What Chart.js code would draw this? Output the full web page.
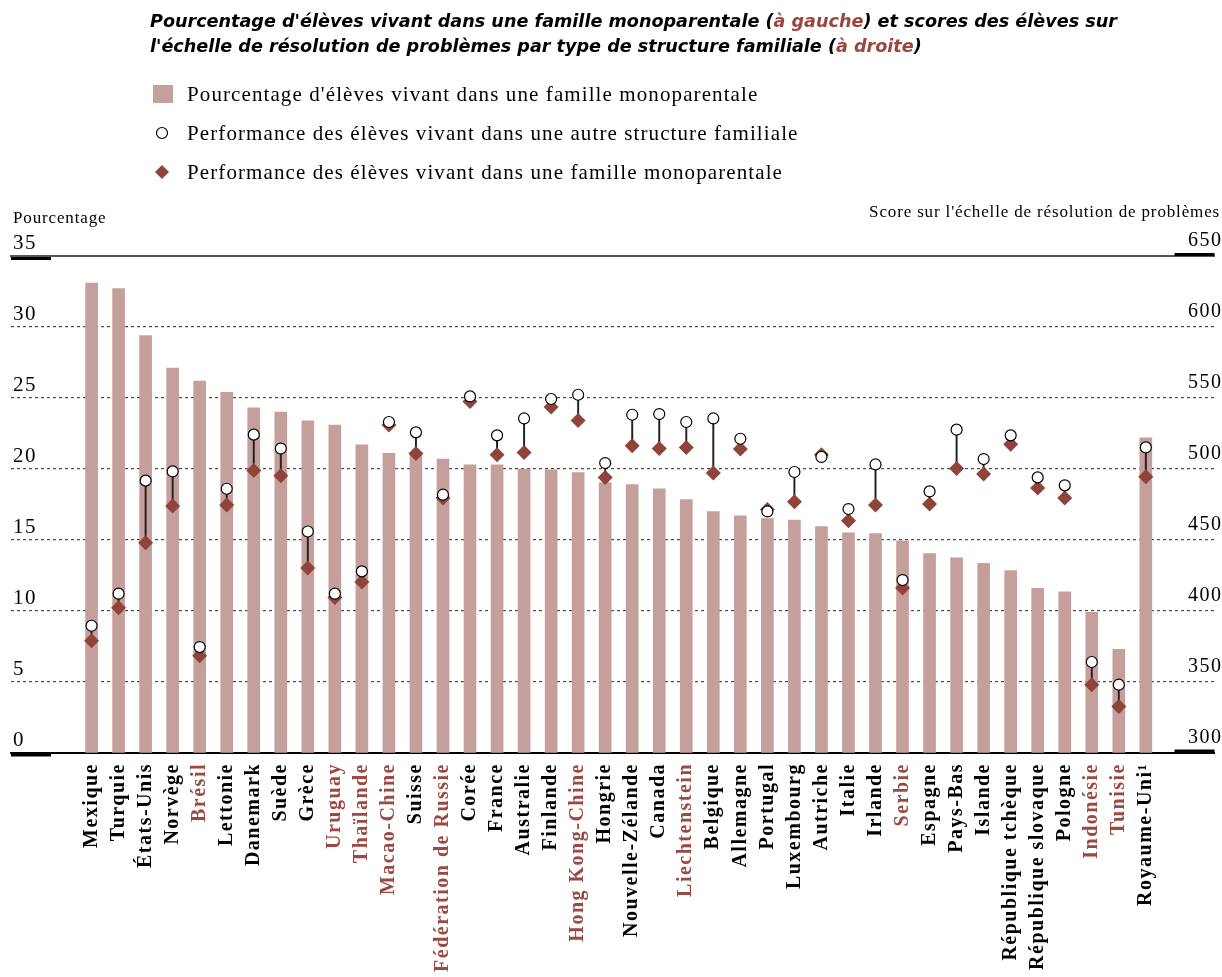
<!DOCTYPE html>
<html>
<head>
<meta charset="utf-8">
<script src="https://cdn.jsdelivr.net/npm/chart.js@4/dist/chart.umd.min.js"></script>
<style>
  body { margin: 0; background: #fff; }
  #page { position: relative; width: 1222px; height: 977px; overflow: hidden; font-family: "Liberation Serif", serif; }
  #chart-box { position: absolute; left: 0; top: 0; width: 1222px; height: 977px; }
  #title { position: absolute; left: 150px; top: 9px; font: italic bold 17.6px "DejaVu Sans", sans-serif; line-height: 25px; color: #000; white-space: nowrap; }
  #title .hl { color: #9b463d; }
  .leg { position: absolute; left: 150px; height: 24px; font-size: 21px; line-height: 24px; letter-spacing: 1.1px; white-space: nowrap; }
  .leg .mk { position: absolute; left: 0; top: 0; width: 26px; height: 24px; }
  .leg span { position: absolute; left: 37px; top: 0; }
  .axis-title { position: absolute; font-size: 17px; letter-spacing: 0.85px; white-space: nowrap; }
</style>
</head>
<body>
<div id="page">
  <div id="chart-box"><canvas id="chart"></canvas></div>
  <div id="title">Pourcentage d'élèves vivant dans une famille monoparentale (<span class="hl">à gauche</span>) et scores des élèves sur<br>l'échelle de résolution de problèmes par type de structure familiale (<span class="hl">à droite</span>)</div>
  <div class="leg" style="top:82px"><svg class="mk" viewBox="0 0 26 24"><rect x="3" y="3" width="20" height="18" fill="#c59f9c"/></svg><span>Pourcentage d'élèves vivant dans une famille monoparentale</span></div>
  <div class="leg" style="top:121px"><svg class="mk" viewBox="0 0 26 24"><circle cx="12" cy="12" r="5.5" fill="#fff" stroke="#000" stroke-width="1.2"/></svg><span>Performance des élèves vivant dans une autre structure familiale</span></div>
  <div class="leg" style="top:160px"><svg class="mk" viewBox="0 0 26 24"><path d="M12 5 L19 12 L12 19 L5 12 Z" fill="#8e4439"/></svg><span>Performance des élèves vivant dans une famille monoparentale</span></div>
  <div class="axis-title" style="left:13px; top:208px">Pourcentage</div>
  <div class="axis-title" style="right:2px; top:202px">Score sur l'échelle de résolution de problèmes</div>
</div>
<script>
const countries = ['Mexique', 'Turquie', 'États-Unis', 'Norvège', 'Brésil', 'Lettonie', 'Danemark', 'Suède', 'Grèce', 'Uruguay',
  'Thaïlande', 'Macao-Chine', 'Suisse', 'Fédération de Russie', 'Corée', 'France', 'Australie', 'Finlande', 'Hong Kong-Chine', 'Hongrie',
  'Nouvelle-Zélande', 'Canada', 'Liechtenstein', 'Belgique', 'Allemagne', 'Portugal', 'Luxembourg', 'Autriche', 'Italie', 'Irlande',
  'Serbie', 'Espagne', 'Pays-Bas', 'Islande', 'République tchèque', 'République slovaque', 'Pologne', 'Indonésie', 'Tunisie', 'Royaume-Uni¹'];

// partner countries are shown in brown
const partners = ['Brésil', 'Uruguay', 'Thaïlande', 'Macao-Chine', 'Fédération de Russie', 'Hong Kong-Chine', 'Liechtenstein', 'Serbie', 'Indonésie', 'Tunisie'];

// % of students in single-parent families (left axis)
const pctSingleParent = [33.1, 32.7, 29.4, 27.1, 26.2, 25.4, 24.3, 24.0, 23.4, 23.1,
  21.7, 21.1, 21.1, 20.7, 20.3, 20.3, 20.0, 19.95, 19.75, 19.05,
  18.9, 18.6, 17.85, 17.0, 16.7, 16.5, 16.4, 15.95, 15.5, 15.45,
  14.95, 14.05, 13.75, 13.35, 12.85, 11.6, 11.35, 9.9, 7.3, 22.2];

// problem-solving scores (right axis)
const scoreOther = [389.6, 412.2, 491.8, 498.3, 374.6, 486.1, 524.2, 514.4, 456.0, 412.2,
  427.9, 533.1, 525.8, 481.9, 551.1, 523.7, 535.6, 549.3, 552.3, 504.2,
  538.2, 538.7, 533.1, 535.6, 521.3, 470.1, 497.9, 508.5, 471.8, 503.2,
  421.8, 484.2, 527.7, 507.0, 523.7, 494.1, 488.5, 364.1, 348.1, 515.2];
const scoreSingle = [379.1, 402.3, 448.1, 474.0, 368.5, 474.6, 499.0, 495.3, 430.3, 409.5,
  420.4, 531.0, 511.0, 479.5, 547.6, 510.1, 511.7, 543.7, 534.2, 494.1,
  516.4, 514.5, 515.2, 497.2, 514.1, 471.5, 477.0, 510.0, 463.6, 474.6,
  416.2, 475.4, 500.4, 496.5, 517.5, 486.6, 479.6, 348.1, 332.8, 494.6];

const leftTicks = [0, 5, 10, 15, 20, 25, 30, 35];
const rightTicks = [300, 350, 400, 450, 500, 550, 600, 650];

const BROWN = '#9a4a42';
const pts = arr => arr.map((v, i) => ({ x: i, y: v }));

// thick black marks at both ends of the top and bottom lines
const axisMarks = {
  id: 'axisMarks',
  afterDraw(chart) {
    const { ctx, chartArea: a, scales } = chart;
    const top = scales.y.getPixelForValue(35);
    const bottom = scales.y.getPixelForValue(0);
    ctx.save();
    ctx.fillStyle = '#000';
    ctx.fillRect(a.left, top + 1, 40, 3);
    ctx.fillRect(a.left, bottom, 40, 3.5);
    ctx.fillRect(a.right - 40, top - 3, 40, 3);
    ctx.fillRect(a.right - 40, bottom - 3.5, 40, 3.5);
    ctx.restore();
  }
};

// wider text spacing, close to the original typeface
const spacing = {
  id: 'spacing',
  beforeUpdate(chart) { chart.ctx.letterSpacing = '1.5px'; },
  beforeDraw(chart) { chart.ctx.letterSpacing = '1.5px'; }
};

new Chart(document.getElementById('chart'), {
  type: 'bar',
  data: {
    datasets: [
      {
        type: 'line', label: 'Performance des élèves vivant dans une autre structure familiale',
        data: pts(scoreOther), xAxisID: 'x', yAxisID: 'y2', showLine: false,
        pointStyle: 'circle', pointRadius: 5.5, pointBackgroundColor: '#fff',
        pointBorderColor: '#000', pointBorderWidth: 1.2, order: 0
      },
      {
        type: 'line', label: 'Performance des élèves vivant dans une famille monoparentale',
        data: pts(scoreSingle), xAxisID: 'x', yAxisID: 'y2', showLine: false,
        pointStyle: 'rectRot', pointRadius: 7.5, pointBackgroundColor: '#8e4439',
        pointBorderWidth: 0, order: 1
      },
      {
        type: 'bar', label: 'écart',
        data: scoreOther.map((v, i) => ({ x: i, y: [scoreSingle[i], v] })),
        xAxisID: 'x', yAxisID: 'y2', barThickness: 1.3, backgroundColor: '#222', grouped: false, order: 2
      },
      {
        type: 'bar', label: "Pourcentage d'élèves vivant dans une famille monoparentale",
        data: pts(pctSingleParent), xAxisID: 'x', yAxisID: 'y',
        barThickness: 12, backgroundColor: '#c59f9c', grouped: false, order: 3
      }
    ]
  },
  options: {
    responsive: true,
    maintainAspectRatio: false,
    animation: false,
    layout: { padding: { top: 256, left: 11, right: 0, bottom: 0 } },
    plugins: { legend: { display: false }, tooltip: { enabled: false } },
    scales: {
      x: {
        type: 'linear', position: 'bottom', min: -2.98, max: 41.54, bounds: 'data', offset: false,
        afterBuildTicks: s => { s.ticks = countries.map((c, i) => ({ value: i })); },
        afterFit: s => { s.height = 224; s.paddingLeft = 0; s.paddingRight = 0; },
        grid: { display: false, drawTicks: false },
        border: { display: true, color: '#000', width: 2 },
        ticks: {
          autoSkip: false, minRotation: 90, maxRotation: 90, padding: 10,
          callback: v => countries[v],
          color: c => partners.includes(countries[c.index]) ? BROWN : '#000',
          font: { family: 'Liberation Serif', size: 20, weight: 'bold' }
        }
      },
      xTop: {
        type: 'linear', position: 'top', min: 0, max: 1, offset: false,
        afterFit: s => { s.height = 0; s.paddingLeft = 0; s.paddingRight = 0; },
        grid: { display: false, drawTicks: false },
        ticks: { display: false },
        border: { display: true, color: '#555', width: 2 }
      },
      y: {
        position: 'left', min: 0, max: 35, bounds: 'data',
        afterBuildTicks: s => { s.ticks = leftTicks.map(v => ({ value: v })); },
        afterFit: s => { s.width = 0; },
        grid: {
          drawTicks: false, lineWidth: 1.2,
          color: c => (c.tick.value === 0 || c.tick.value === 35) ? 'rgba(0,0,0,0)' : '#4a4a4a'
        },
        border: { display: false, dash: [3, 3] },
        ticks: {
          mirror: true, padding: 2, labelOffset: -13, color: '#000',
          font: { family: 'Liberation Serif', size: 21 }
        }
      },
      y2: {
        position: 'right', min: 300, max: 650, bounds: 'data',
        afterBuildTicks: s => { s.ticks = rightTicks.map(v => ({ value: v })); },
        afterFit: s => { s.width = 0; },
        grid: { display: false, drawTicks: false },
        border: { display: false },
        ticks: {
          mirror: true, padding: 8, labelOffset: -15, color: '#000',
          font: { family: 'Liberation Serif', size: 20 }
        }
      }
    }
  },
  plugins: [axisMarks, spacing]
});
</script>
</body>
</html>
